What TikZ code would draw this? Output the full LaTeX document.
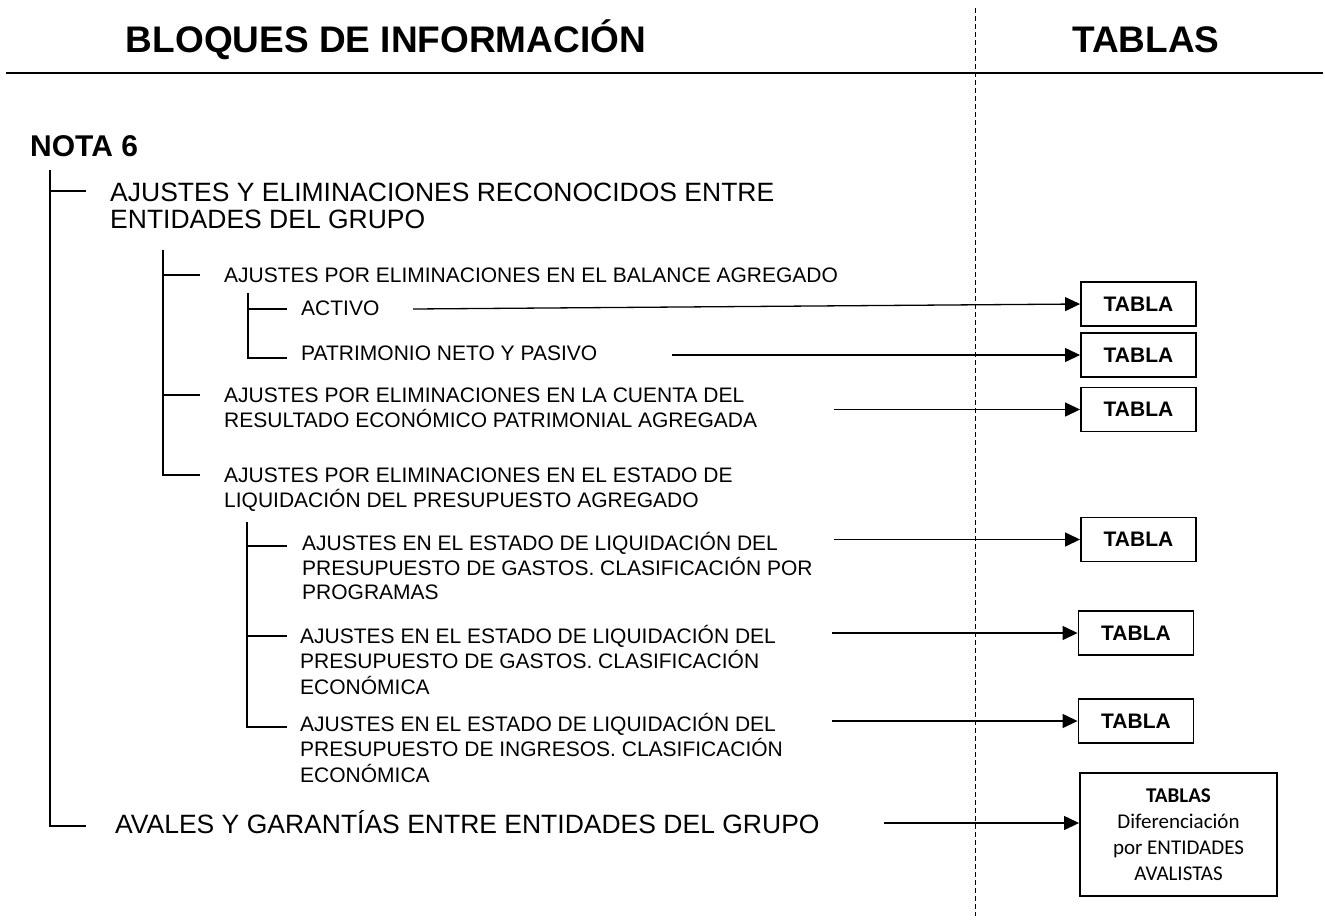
\documentclass[tikz,border=0pt]{standalone}
\usepackage{fontspec}
\setmainfont{Liberation Sans}
\newfontfamily\calibrifont{Carlito}
\usetikzlibrary{arrows.meta}
\newcommand{\mlines}[1]{\begin{tabular}[t]{@{}l@{}}#1\end{tabular}}
\begin{document}
\begin{tikzpicture}[x=1pt,y=-1pt,
  tree/.style={line width=1.1pt},
  conn/.style={line width=1.3pt,-{Triangle[length=15pt,width=14pt]}},
  tbl/.style={draw,line width=1.9pt,minimum width=115pt,minimum height=44pt,inner sep=0pt,font=\fontsize{21}{24}\selectfont\bfseries},
  hdr/.style={anchor=base,inner sep=0pt,font=\fontsize{37}{40}\selectfont\bfseries},
  lone/.style={anchor=base west,inner sep=0pt,font=\fontsize{26.5}{27}\selectfont},
  ltwo/.style={anchor=base west,inner sep=0pt,font=\fontsize{21}{24}\selectfont},
]
\useasboundingbox (0,0) rectangle (1325,919);

% headers
\node[hdr] (hb) at (386,52) {BLOQUES DE INFORMACIÓN};
\node[hdr] (ht) at (1146,52) {TABLAS};
\coordinate (hl) at (6,73);
\coordinate (hr) at (1323,73);
\draw[line width=1.4pt] (hl) -- (hr);
\coordinate (dtop) at (975.5,8);
\coordinate (dbot) at (975.5,916);
\draw[line width=1pt,dash pattern=on 5pt off 3pt] (dtop) -- (dbot);

% NOTA
\node[anchor=base west,inner sep=0pt,font=\fontsize{30}{32}\selectfont\bfseries] (nota) at (30,156) {NOTA 6};

% level 1
\node[lone] (a1) at (110,201.5) {\mlines{AJUSTES Y ELIMINACIONES RECONOCIDOS ENTRE\\ENTIDADES DEL GRUPO}};
\node[lone] (a2) at (115,833) {AVALES Y GARANTÍAS ENTRE ENTIDADES DEL GRUPO};
\draw[tree] (50,170) -- (50,826) -- (86,826);
\draw[tree] (50,191) -- (86,191);

% level 2
\node[ltwo] (b1) at (224,282.5) {AJUSTES POR ELIMINACIONES EN EL BALANCE AGREGADO};
\node[ltwo] (b2) at (224,402.5) {\mlines{AJUSTES POR ELIMINACIONES EN LA CUENTA DEL\\RESULTADO ECONÓMICO PATRIMONIAL AGREGADA}};
\node[ltwo] (b3) at (224,482.5) {\mlines{AJUSTES POR ELIMINACIONES EN EL ESTADO DE\\LIQUIDACIÓN DEL PRESUPUESTO AGREGADO}};
\draw[tree] (163,250) -- (163,475) -- (200,475);
\draw[tree] (163,275) -- (200,275);
\draw[tree] (163,395) -- (200,395);

% level 3 (balance)
\node[ltwo] (c1) at (301,315.5) {ACTIVO};
\node[ltwo] (c2) at (301,360.5) {PATRIMONIO NETO Y PASIVO};
\draw[tree] (248,293) -- (248,358) -- (287,358);
\draw[tree] (248,309) -- (287,309);

% level 3 (estado)
\node[ltwo] (d1) at (302,550.5) {\mlines{AJUSTES EN EL ESTADO DE LIQUIDACIÓN DEL\\PRESUPUESTO DE GASTOS. CLASIFICACIÓN POR\\PROGRAMAS}};
\node[ltwo] (d2) at (300,643.5) {\mlines{AJUSTES EN EL ESTADO DE LIQUIDACIÓN DEL\\PRESUPUESTO DE GASTOS. CLASIFICACIÓN\\ECONÓMICA}};
\node[ltwo] (d3) at (300,731.5) {\mlines{AJUSTES EN EL ESTADO DE LIQUIDACIÓN DEL\\PRESUPUESTO DE INGRESOS. CLASIFICACIÓN\\ECONÓMICA}};
\draw[tree] (247,522) -- (247,727) -- (287,727);
\draw[tree] (247,546) -- (287,546);
\draw[tree] (247,636) -- (287,636);

% tables
\node[tbl] (t1) at (1138.5,304) {TABLA};
\node[tbl] (t2) at (1138.5,355) {TABLA};
\node[tbl] (t3) at (1138.5,409.5) {TABLA};
\node[tbl] (t4) at (1138.5,539.5) {TABLA};
\node[tbl] (t5) at (1136,633) {TABLA};
\node[tbl] (t6) at (1136,721) {TABLA};
\node[draw,line width=1.9pt,minimum width=197pt,minimum height=123pt,inner sep=0pt,align=center,font=\calibrifont\fontsize{21}{26}\selectfont] (t7) at (1178.5,834.5) {{\bfseries TABLAS}\\Diferenciación\\por ENTIDADES\\AVALISTAS};

% arrows
\coordinate (s1) at (413,309);
\coordinate (s2) at (672,355);
\coordinate (s3) at (834,409.5);
\coordinate (s4) at (834,539.5);
\coordinate (s5) at (832,633);
\coordinate (s6) at (832,721);
\coordinate (s7) at (884,823);
\draw[conn] (s1) -- (t1.west);
\draw[conn] (s2) -- (t2.west);
\draw[conn] (s3) -- (t3.west);
\draw[conn] (s4) -- (t4.west);
\draw[conn] (s5) -- (t5.west);
\draw[conn] (s6) -- (t6.west);
\draw[conn] (s7) -- (s7 -| t7.west);
\end{tikzpicture}
\end{document}
